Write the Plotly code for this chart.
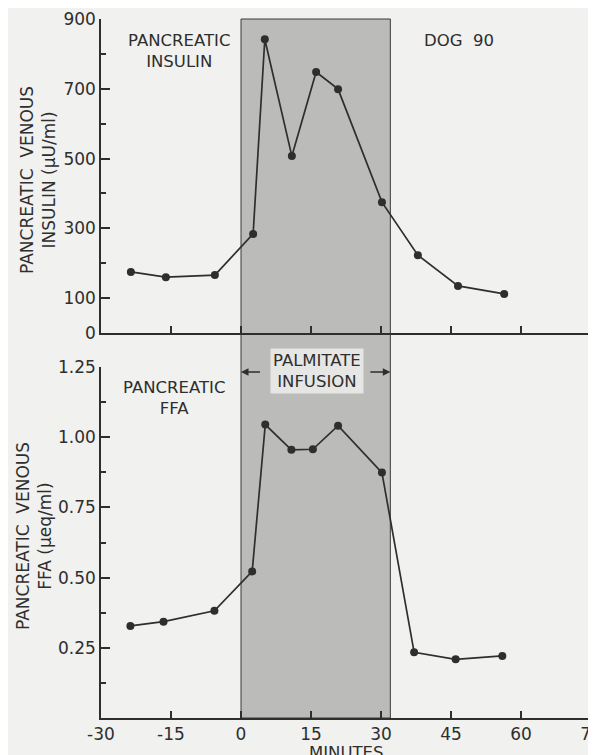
# Pancreatic venous insulin and FFA before, during and after palmitate infusion (dog 90)
import plotly.graph_objects as go
from plotly.subplots import make_subplots

# insulin panel (minutes, uU/ml)
insulin_min = [-23.6, -16.1, -5.6, 2.6, 5.1, 10.9, 16.1, 20.8, 30.2, 37.9, 46.5, 56.4]
insulin_val = [175, 160, 166, 284, 842, 507, 748, 699, 375, 223, 135, 112]

# FFA panel (minutes, ueq/ml)
ffa_min = [-23.7, -16.6, -5.7, 2.4, 5.2, 10.8, 15.4, 20.8, 30.2, 37.1, 46.0, 56.0]
ffa_val = [0.328, 0.343, 0.382, 0.522, 1.045, 0.955, 0.957, 1.041, 0.874, 0.234, 0.209, 0.221]

infusion = [0, 32]
x_ticks = [-30, -15, 0, 15, 30, 45, 60, 75]
x_labels = ["-30", "-15", "0", "15", "30", "45", "60", "75"]
ins_ticks = [0, 100, 300, 500, 700, 900]
ins_minor = [200, 400, 600, 800]
ffa_ticks = [0.25, 0.50, 0.75, 1.00, 1.25]
ffa_labels = ["0.25", "0.50", "0.75", "1.00", "1.25"]
ffa_minor = [0.125, 0.375, 0.625, 0.875, 1.125]

ink = "#2e2e2e"
paper = "#f1f1ef"
font = "DejaVu Sans"

fig = make_subplots(rows=2, cols=1, row_heights=[314, 351], vertical_spacing=34/699)

for r, (xs, ys) in enumerate([(insulin_min, insulin_val), (ffa_min, ffa_val)], start=1):
	fig.add_trace(
		go.Scatter(x=xs, y=ys, mode="lines+markers",
				line=dict(color=ink, width=1.7),
				marker=dict(color=ink, size=8),
				showlegend=False),
		row=r, col=1)

# stippled infusion band, spans both panels
fig.add_shape(type="rect", xref="x2", yref="paper",
			x0=infusion[0], x1=infusion[1], y0=0, y1=1,
			fillcolor="#bbbbb9", line=dict(color="#3a3a3a", width=1), layer="below")

axis_common = dict(showline=True, linecolor=ink, linewidth=1.5, showgrid=False,
				zeroline=False, ticks="inside", tickcolor=ink, tickwidth=1.5,
				ticklabeloverflow="allow", automargin=False,
				tickfont=dict(family=font, size=17, color=ink))

fig.update_xaxes(range=[-30, 75], tickvals=x_ticks, ticklen=7, **axis_common)
fig.update_xaxes(showticklabels=False, row=1, col=1)
fig.update_xaxes(ticktext=x_labels, row=2, col=1)

fig.update_yaxes(range=[0, 900], tickvals=ins_ticks, ticklen=9,
				minor=dict(tickvals=ins_minor, ticks="inside", ticklen=5, tickcolor=ink, tickwidth=1.5),
				row=1, col=1, **axis_common)
fig.update_yaxes(range=[0, 1.25], tickvals=ffa_ticks, ticktext=ffa_labels, ticklen=9,
				minor=dict(tickvals=ffa_minor, ticks="inside", ticklen=5, tickcolor=ink, tickwidth=1.5),
				row=2, col=1, **axis_common)

txt = dict(family=font, size=16.5, color=ink)
ytxt = dict(family=font, size=17, color=ink)
ann = [
	dict(text="PANCREATIC<br>INSULIN", x=-13.3, y=808, xref="x", yref="y", showarrow=False),
	dict(text="DOG  90", x=46.7, y=837, xref="x", yref="y", showarrow=False),
	dict(text="PANCREATIC<br>FFA", x=-14.4, y=1.14, xref="x2", yref="y2", showarrow=False),
	dict(text="PALMITATE<br>INFUSION", x=16.3, y=1.234, xref="x2", yref="y2", showarrow=False,
		bgcolor="#e6e6e4", borderpad=2),
	dict(text="", x=0, y=1.232, ax=4.4, ay=1.232, xref="x2", yref="y2", axref="x2", ayref="y2",
		showarrow=True, arrowhead=2, arrowsize=1, arrowwidth=1.5, arrowcolor=ink),
	dict(text="", x=32, y=1.232, ax=27.4, ay=1.232, xref="x2", yref="y2", axref="x2", ayref="y2",
		showarrow=True, arrowhead=2, arrowsize=1, arrowwidth=1.5, arrowcolor=ink),
	dict(text="PANCREATIC  VENOUS<br>INSULIN (\u03bcU/ml)", x=-0.1286, y=0.7697,
		xref="paper", yref="paper", xanchor="center", yanchor="middle",
		textangle=-90, showarrow=False, font=ytxt),
	dict(text="PANCREATIC  VENOUS<br>FFA (\u03bceq/ml)", x=-0.1367, y=0.2604,
		xref="paper", yref="paper", xanchor="center", yanchor="middle",
		textangle=-90, showarrow=False, font=ytxt),
	dict(text="MINUTES", x=0.5, y=-0.049, xref="paper", yref="paper",
		xanchor="center", yanchor="middle", showarrow=False),
]
for a in ann:
	a.setdefault("font", txt)
fig.update_layout(annotations=ann)

# page body adds an 8px offset, so the figure is 8px smaller than the window
fig.update_layout(
	width=588, height=747,
	margin=dict(l=93, r=5, t=11, b=37, autoexpand=False),
	paper_bgcolor=paper,
	plot_bgcolor=paper,
	font=dict(family=font, color=ink),
	showlegend=False,
)

fig.write_html("out.html")
